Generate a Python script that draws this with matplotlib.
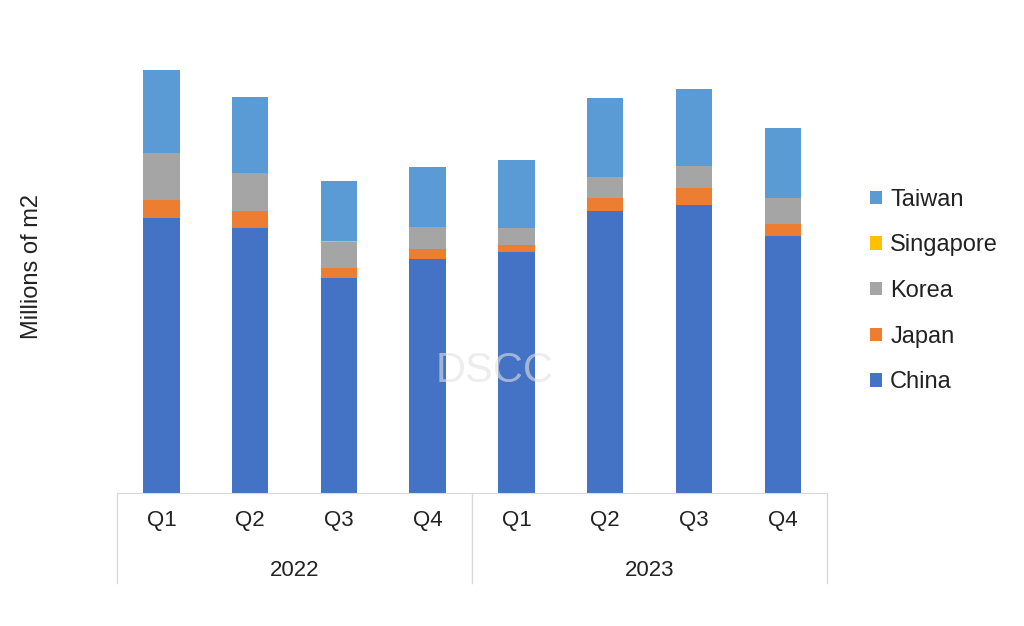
import matplotlib.pyplot as plt
import numpy as np

plt.rcParams['font.family'] = ['Liberation Sans', 'DejaVu Sans']

quarters = ['Q1', 'Q2', 'Q3', 'Q4', 'Q1', 'Q2', 'Q3', 'Q4']
years = ['2022', '2023']

china = [275, 265, 215, 234, 241, 282, 288, 257]
japan = [18, 17, 10, 10, 7, 13, 17, 12]
korea = [47, 38, 26, 22, 17, 21, 22, 26]
singapore = [0, 0, 1, 0, 0, 0, 0, 0]
taiwan = [83, 76, 60, 60, 68, 79, 77, 70]

series = [('China', china, '#4472C4'),
          ('Japan', japan, '#ED7D31'),
          ('Korea', korea, '#A5A5A5'),
          ('Singapore', singapore, '#FFC000'),
          ('Taiwan', taiwan, '#5B9BD5')]

fig = plt.figure(figsize=(10.24, 6.26), dpi=100)
ax = fig.add_axes([0.1143, 0.2125, 0.6934, 0.7236])

x = np.arange(len(quarters))
bottom = np.zeros(len(quarters))
handles = []
for name, vals, col in series:
    b = ax.bar(x, vals, width=0.41, bottom=bottom, color=col, label=name)
    bottom += np.array(vals)
    handles.append(b)

ax.set_xlim(-0.5, 7.5)
ax.set_ylim(0, 453)
ax.set_yticks([])
ax.set_xticks([])
for s in ['left', 'right', 'top']:
    ax.spines[s].set_visible(False)
ax.spines['bottom'].set_color('#D9D9D9')

# two-level category axis
tr = ax.get_xaxis_transform()
for i, q in enumerate(quarters):
    ax.text(i, -0.06, q, transform=tr, ha='center', va='center', fontsize=16, color='#222222')
for j, yr in enumerate(years):
    ax.text(j * 4 + 1.5, -0.172, yr, transform=tr, ha='center', va='center', fontsize=16, color='#222222')
for xs in [-0.5, 3.5, 7.5]:
    ax.plot([xs, xs], [0, -0.199], transform=tr, color='#D9D9D9', lw=1, clip_on=False)

fig.text(32 / 1024, 1 - 266 / 626, 'Millions of m2', rotation=90, ha='center', va='center',
         fontsize=17, color='#222222')

# watermark
ax.text(3.75, 0.27, 'DSCC', transform=tr, ha='center', va='center', fontsize=30,
        color='#E2E2E2', alpha=0.6)

leg = fig.legend(handles[::-1], [s[0] for s in series][::-1], loc='center left',
                 bbox_to_anchor=(0.829, 0.535), frameon=False, fontsize=17,
                 handlelength=0.5, handleheight=0.5, handletextpad=0.35, labelspacing=1.0)
for t in leg.get_texts():
    t.set_color('#222222')

fig.savefig('out.png', dpi=100)
